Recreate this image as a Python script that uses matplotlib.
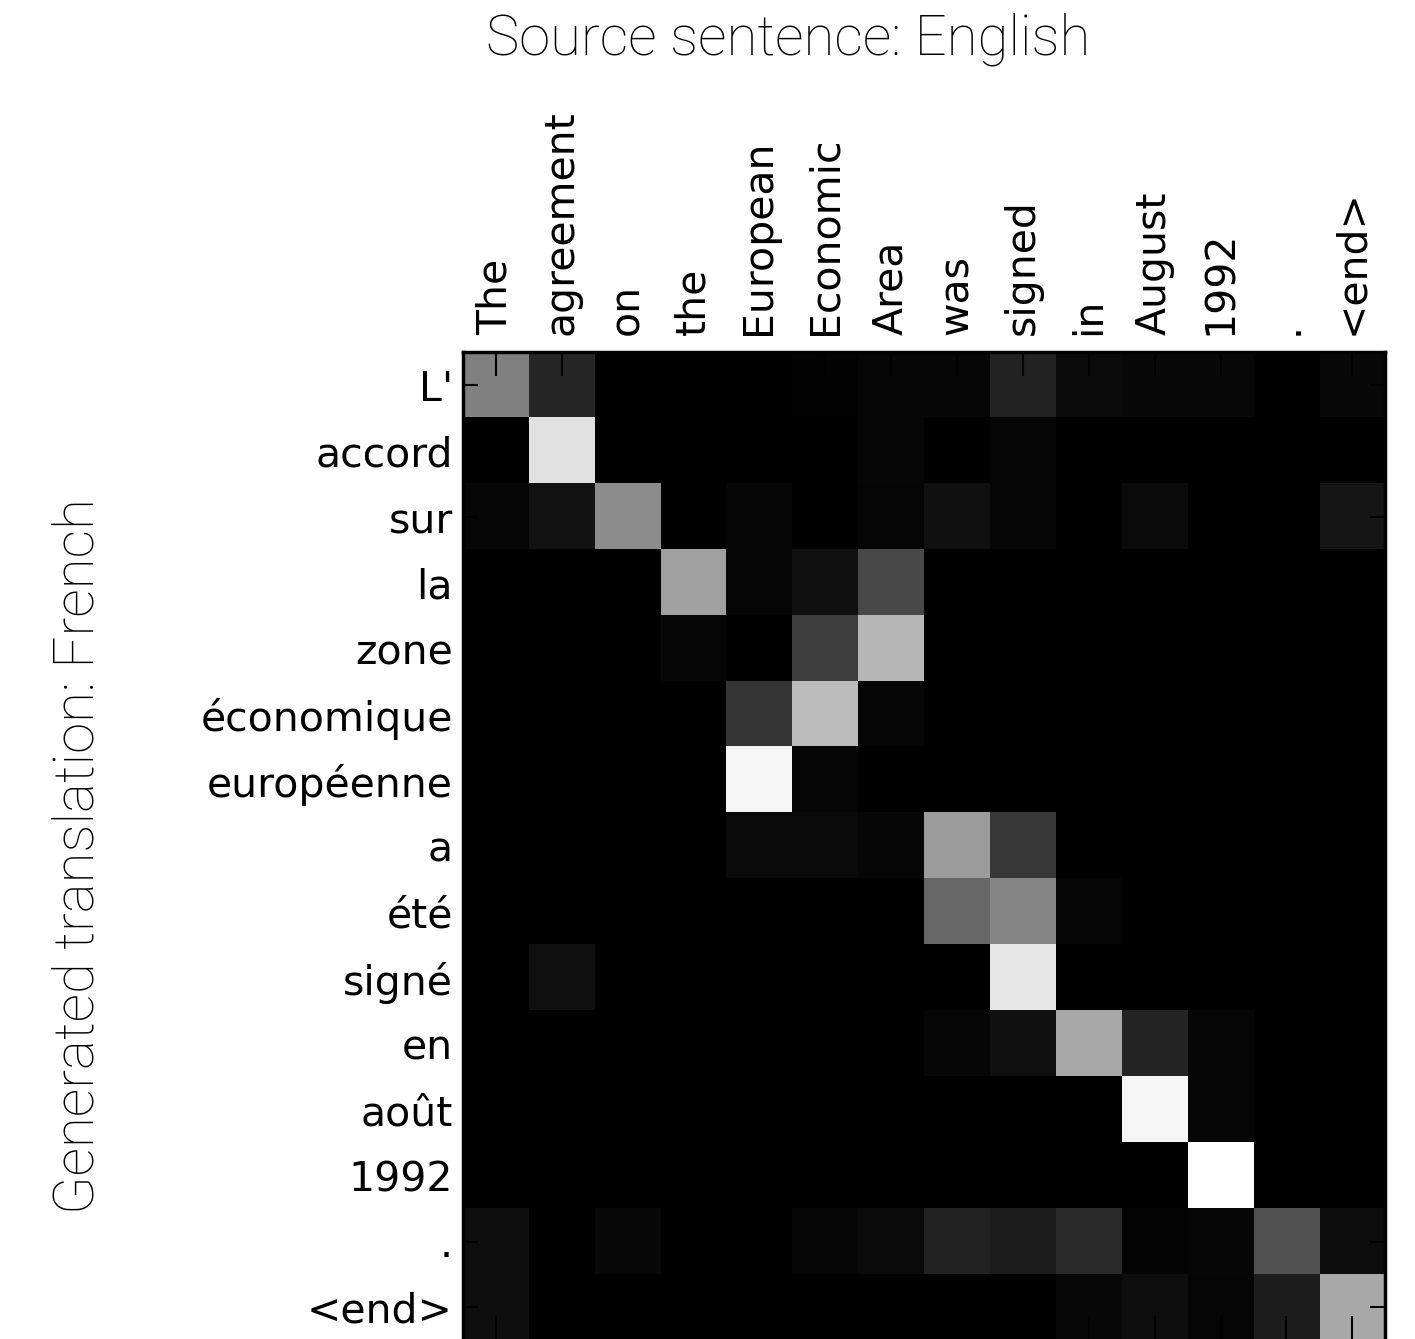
import numpy as np
import matplotlib
matplotlib.use("Agg")
import matplotlib.pyplot as plt

# source (columns) and generated (rows) tokens
src = ["The", "agreement", "on", "the", "European", "Economic", "Area", "was",
       "signed", "in", "August", "1992", ".", "<end>"]
tgt = ["L'", "accord", "sur", "la", "zone", "économique", "européenne", "a",
       "été", "signé", "en", "août", "1992", ".", "<end>"]

r_l = [128, 38, 0, 0, 0, 2, 6, 6, 34, 10, 8, 8, 0, 8]
r_accord = [0, 225, 0, 0, 0, 0, 6, 0, 6, 0, 0, 0, 0, 0]
r_sur = [6, 18, 140, 0, 6, 0, 5, 16, 6, 0, 10, 0, 0, 22]
r_la = [0, 0, 0, 160, 6, 16, 72, 0, 0, 0, 0, 0, 0, 0]
r_zone = [0, 0, 0, 6, 0, 62, 183, 0, 0, 0, 0, 0, 0, 0]
r_econ = [0, 0, 0, 0, 52, 188, 6, 0, 0, 0, 0, 0, 0, 0]
r_euro = [0, 0, 0, 0, 245, 6, 0, 0, 0, 0, 0, 0, 0, 0]
r_a = [0, 0, 0, 0, 10, 10, 6, 155, 55, 0, 0, 0, 0, 0]
r_ete = [0, 0, 0, 0, 0, 0, 0, 103, 133, 6, 0, 0, 0, 0]
r_signe = [0, 15, 0, 0, 0, 0, 0, 0, 230, 0, 0, 0, 0, 0]
r_en = [0, 0, 0, 0, 0, 0, 0, 6, 16, 168, 36, 6, 0, 0]
r_aout = [0, 0, 0, 0, 0, 0, 0, 0, 0, 0, 245, 6, 0, 0]
r_1992 = [0, 0, 0, 0, 0, 0, 0, 0, 0, 0, 0, 255, 0, 0]
r_dot = [14, 0, 8, 0, 0, 6, 10, 34, 28, 42, 4, 6, 82, 12]
r_end = [14, 0, 0, 0, 0, 0, 0, 0, 0, 8, 14, 5, 28, 168]

att = np.array([r_l, r_accord, r_sur, r_la, r_zone, r_econ, r_euro, r_a,
                r_ete, r_signe, r_en, r_aout, r_1992, r_dot, r_end], dtype=float)

fig = plt.figure(figsize=(14.15, 13.39), dpi=100)
ax = fig.add_axes([0.327, -0.001, 0.652, 0.738])
ax.imshow(att, cmap="gray", vmin=0, vmax=255, interpolation="nearest", aspect="auto")

ax.set_xticks(range(len(src)))
ax.set_yticks(range(len(tgt)))
ax.set_xticklabels(src, rotation=90, fontsize=29.5)
ax.set_yticklabels(tgt, fontsize=29.5)
ax.xaxis.tick_top()
ax.tick_params(axis="x", which="both", direction="in", top=True, bottom=True,
               length=17, width=1.5, pad=12)
ax.tick_params(axis="y", which="both", direction="in", left=True, right=True,
               length=11, width=1.5, pad=7)
for s in ax.spines.values():
    s.set_linewidth(2.5)

fig.text(0.557, 0.971, "Source sentence: English", ha="center", va="center",
         fontsize=40.5, family="Roboto", fontweight="light", color="black")
fig.text(0.055, 0.361, "Generated translation: French", ha="center", va="center",
         rotation=90, fontsize=40.5, family="Roboto", fontweight="light", color="black")

fig.savefig("out.png", dpi=100)
